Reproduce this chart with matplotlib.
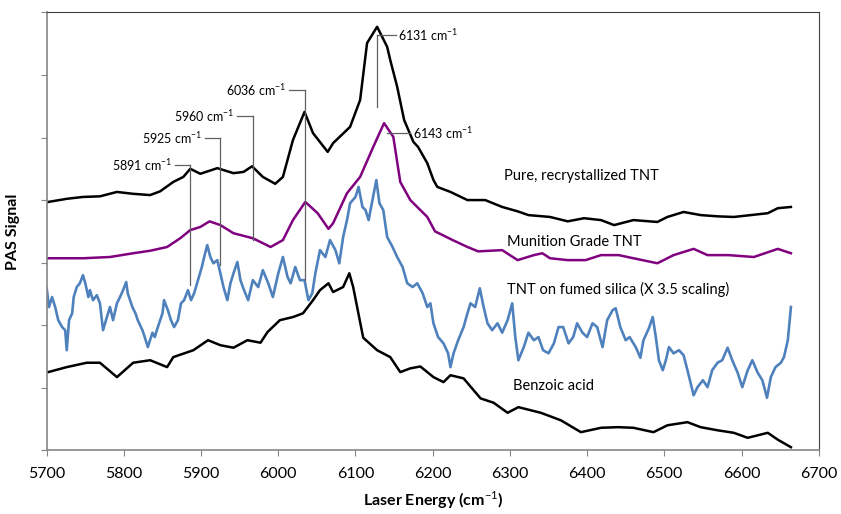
import matplotlib
matplotlib.use("Agg")
import matplotlib.pyplot as plt
import numpy as np

plt.rcParams['font.family'] = ['Lato', 'DejaVu Sans']
plt.rcParams['mathtext.fontset'] = 'custom'
plt.rcParams['mathtext.rm'] = 'Lato'
plt.rcParams['mathtext.bf'] = 'Lato:bold'

# spectra (laser energy in cm-1, signal in axis units)
pure_x = [5702, 5726, 5747, 5769, 5791, 5812, 5834, 5847, 5864, 5877, 5886, 5899,
          5921, 5942, 5955, 5966, 5980, 5996, 6006, 6019, 6034, 6045, 6064, 6071,
          6093, 6106, 6115, 6128, 6141, 6145, 6154, 6163, 6175, 6181, 6193, 6201,
          6206, 6223, 6245, 6268, 6290, 6310, 6324, 6352, 6375, 6396, 6418, 6435,
          6460, 6491, 6504, 6525, 6547, 6569, 6590, 6612, 6634, 6647, 6664]
pure_y = [3.97, 4.02, 4.05, 4.06, 4.13, 4.10, 4.08, 4.14, 4.29, 4.37, 4.50, 4.42,
          4.51, 4.43, 4.45, 4.54, 4.37, 4.26, 4.37, 4.96, 5.41, 5.07, 4.77, 4.91,
          5.17, 5.60, 6.51, 6.77, 6.45, 6.24, 5.81, 5.28, 4.93, 4.85, 4.59, 4.32,
          4.21, 4.13, 4.00, 4.00, 3.89, 3.82, 3.76, 3.73, 3.66, 3.71, 3.68, 3.60,
          3.68, 3.65, 3.73, 3.81, 3.76, 3.74, 3.73, 3.76, 3.79, 3.87, 3.89]

munition_x = [5702, 5747, 5782, 5812, 5834, 5856, 5873, 5886, 5899, 5911, 5925, 5942,
              5967, 5990, 6006, 6019, 6035, 6051, 6065, 6071, 6089, 6106, 6123, 6137,
              6149, 6158, 6171, 6184, 6193, 6203, 6226, 6245, 6259, 6290, 6310, 6331,
              6342, 6352, 6375, 6398, 6418, 6441, 6460, 6491, 6512, 6538, 6556, 6583,
              6616, 6647, 6664]
munition_y = [3.07, 3.07, 3.09, 3.15, 3.19, 3.25, 3.39, 3.52, 3.57, 3.66, 3.60, 3.47,
              3.39, 3.25, 3.36, 3.68, 3.97, 3.79, 3.54, 3.63, 4.11, 4.37, 4.85, 5.23,
              5.01, 4.29, 4.00, 3.84, 3.73, 3.50, 3.36, 3.25, 3.18, 3.20, 3.04, 3.12,
              3.15, 3.07, 3.04, 3.04, 3.12, 3.12, 3.07, 2.99, 3.12, 3.22, 3.12, 3.12,
              3.09, 3.22, 3.15]

silica_x = [5700, 5703, 5707, 5711, 5715, 5720, 5724, 5726, 5729, 5733, 5735, 5739,
            5743, 5747, 5750, 5754, 5756, 5760, 5765, 5769, 5773, 5778, 5782, 5786,
            5791, 5795, 5799, 5803, 5805, 5811, 5815, 5818, 5824, 5827, 5831, 5837,
            5840, 5844, 5850, 5852, 5857, 5861, 5865, 5870, 5874, 5878, 5883, 5887,
            5891, 5896, 5901, 5904, 5908, 5912, 5916, 5921, 5925, 5929, 5934, 5938,
            5942, 5947, 5951, 5955, 5961, 5967, 5974, 5980, 5987, 5993, 6000, 6006,
            6012, 6016, 6022, 6028, 6034, 6039, 6044, 6048, 6054, 6061, 6067, 6074,
            6079, 6084, 6089, 6093, 6100, 6104, 6109, 6113, 6117, 6122, 6127, 6131,
            6136, 6141, 6148, 6154, 6161, 6167, 6174, 6180, 6187, 6193, 6197, 6201,
            6207, 6214, 6220, 6223, 6227, 6233, 6240, 6245, 6249, 6255, 6261, 6266,
            6271, 6277, 6284, 6290, 6297, 6303, 6307, 6311, 6318, 6324, 6331, 6337,
            6343, 6350, 6357, 6363, 6369, 6376, 6382, 6387, 6394, 6400, 6407, 6413,
            6420, 6426, 6433, 6437, 6443, 6450, 6455, 6463, 6469, 6473, 6480, 6485,
            6489, 6493, 6498, 6502, 6506, 6512, 6519, 6525, 6530, 6534, 6538, 6543,
            6550, 6556, 6562, 6569, 6575, 6582, 6588, 6595, 6601, 6608, 6614, 6621,
            6627, 6633, 6638, 6644, 6651, 6655, 6660, 6664]
silica_y = [2.59, 2.29, 2.45, 2.29, 2.08, 1.97, 1.92, 1.60, 2.08, 2.19, 2.45, 2.61,
            2.67, 2.80, 2.67, 2.45, 2.56, 2.40, 2.48, 2.35, 1.92, 2.13, 2.29, 2.08,
            2.35, 2.45, 2.56, 2.69, 2.51, 2.29, 2.19, 2.08, 1.92, 1.81, 1.65, 1.88,
            1.81, 1.97, 2.19, 2.40, 2.24, 2.08, 1.97, 2.08, 2.35, 2.40, 2.56, 2.40,
            2.51, 2.72, 2.93, 3.09, 3.28, 3.09, 2.99, 3.04, 2.83, 2.61, 2.40, 2.67,
            2.83, 3.01, 2.72, 2.58, 2.40, 2.72, 2.61, 2.88, 2.67, 2.45, 2.83, 3.09,
            2.77, 2.67, 2.93, 2.72, 2.72, 2.40, 2.51, 2.83, 3.20, 3.09, 3.36, 3.20,
            2.99, 3.41, 3.68, 3.95, 4.05, 4.21, 3.89, 3.84, 3.68, 4.00, 4.32, 3.95,
            3.84, 3.41, 3.25, 3.09, 2.93, 2.67, 2.61, 2.67, 2.51, 2.29, 2.35, 2.03,
            1.81, 1.71, 1.55, 1.33, 1.55, 1.76, 1.97, 2.19, 2.35, 2.29, 2.59, 2.29,
            2.03, 1.92, 2.03, 1.88, 2.08, 2.35, 1.81, 1.44, 1.65, 1.88, 1.76, 1.81,
            1.60, 1.55, 1.71, 1.97, 1.97, 1.71, 1.81, 2.03, 1.88, 1.81, 2.03, 1.97,
            1.65, 2.08, 2.24, 2.27, 1.97, 1.76, 1.81, 1.65, 1.48, 1.76, 1.95, 2.13,
            1.81, 1.44, 1.28, 1.44, 1.65, 1.55, 1.60, 1.52, 1.28, 1.08, 0.88, 1.01,
            1.12, 1.01, 1.28, 1.40, 1.44, 1.64, 1.44, 1.24, 1.01, 1.28, 1.44, 1.24,
            1.12, 0.84, 1.17, 1.33, 1.40, 1.49, 1.76, 2.29]

benzoic_x = [5702, 5726, 5752, 5769, 5791, 5812, 5834, 5856, 5864, 5890, 5909, 5925,
             5942, 5960, 5977, 5986, 6002, 6019, 6032, 6045, 6054, 6065, 6071, 6084,
             6092, 6097, 6110, 6128, 6145, 6158, 6171, 6184, 6201, 6214, 6223, 6240,
             6262, 6279, 6297, 6311, 6340, 6366, 6392, 6418, 6440, 6460, 6486, 6504,
             6530, 6547, 6569, 6590, 6608, 6634, 6647, 6664]
benzoic_y = [1.25, 1.33, 1.40, 1.40, 1.17, 1.40, 1.44, 1.33, 1.49, 1.60, 1.76, 1.68,
             1.64, 1.76, 1.72, 1.89, 2.08, 2.13, 2.19, 2.40, 2.56, 2.67, 2.53, 2.61,
             2.83, 2.61, 1.80, 1.60, 1.49, 1.25, 1.31, 1.34, 1.17, 1.09, 1.20, 1.15,
             0.83, 0.76, 0.60, 0.69, 0.60, 0.48, 0.29, 0.36, 0.37, 0.36, 0.29, 0.40,
             0.45, 0.37, 0.32, 0.28, 0.20, 0.28, 0.17, 0.05]

# peak annotations: label, line x, top of line, bottom of line
peaks = [("5891", 5886, 4.56, 2.64),
         ("5925", 5925, 4.99, 2.96),
         ("5960", 5967, 5.35, 3.36),
         ("6036", 6034, 5.76, 2.72)]

fig = plt.figure(figsize=(8.41, 5.14), dpi=100)
ax = fig.add_axes([0.0555, 0.1239, 0.918, 0.852])

ax.plot(pure_x, pure_y, color="black", lw=1.8)
ax.plot(munition_x, munition_y, color="#800080", lw=1.8)
ax.plot(silica_x, silica_y, color="#4F81BD", lw=1.9)
ax.plot(benzoic_x, benzoic_y, color="black", lw=1.8)

line_col = "#606060"
for lab, xp, ytop, ybot in peaks:
    ax.plot([xp - 20, xp], [ytop, ytop], color=line_col, lw=0.9)
    ax.plot([xp, xp], [ytop, ybot], color=line_col, lw=0.9)
    ax.text(xp - 24, ytop, lab + r" cm$^{-1}$", ha="right", va="center", fontsize=9)

# 6131 (pure TNT) and 6143 (munition grade)
ax.plot([6128, 6128], [5.49, 6.64], color=line_col, lw=0.9)
ax.plot([6128, 6152], [6.64, 6.64], color=line_col, lw=0.9)
ax.text(6155, 6.64, r"6131 cm$^{-1}$", ha="left", va="center", fontsize=9)
ax.plot([6141, 6171], [5.07, 5.07], color=line_col, lw=0.9)
ax.text(6174, 5.07, r"6143 cm$^{-1}$", ha="left", va="center", fontsize=9)

# series labels
ax.text(6293, 4.38, "Pure, recrystallized TNT", fontsize=10.5, va="center")
ax.text(6296, 3.33, "Munition Grade TNT", fontsize=10.5, va="center")
ax.text(6296, 2.57, "TNT on fumed silica (X 3.5 scaling)", fontsize=10.5, va="center")
ax.text(6304, 1.03, "Benzoic acid", fontsize=10.5, va="center")

ax.set_xlim(5700, 6700)
ax.set_ylim(0, 7)
ax.set_xticks(np.arange(5700, 6701, 100))
ax.set_yticks(np.arange(0, 8, 1))
ax.set_yticklabels([])
ax.tick_params(axis="both", direction="out", length=4, color="#868686", labelsize=11.5)
ax.tick_params(axis="x", pad=8)

for s in ["left", "bottom"]:
    ax.spines[s].set_color("#868686")
    ax.spines[s].set_linewidth(1.2)
for s in ["top", "right"]:
    ax.spines[s].set_color("#404040")
    ax.spines[s].set_linewidth(0.8)

ax.set_xlabel(r"Laser Energy (cm$^{-1}$)", fontsize=11.5, fontweight="bold", labelpad=6)
ax.set_ylabel("PAS Signal", fontsize=11.5, fontweight="bold", labelpad=12)

plt.savefig("out.png", dpi=100)
plt.close()
